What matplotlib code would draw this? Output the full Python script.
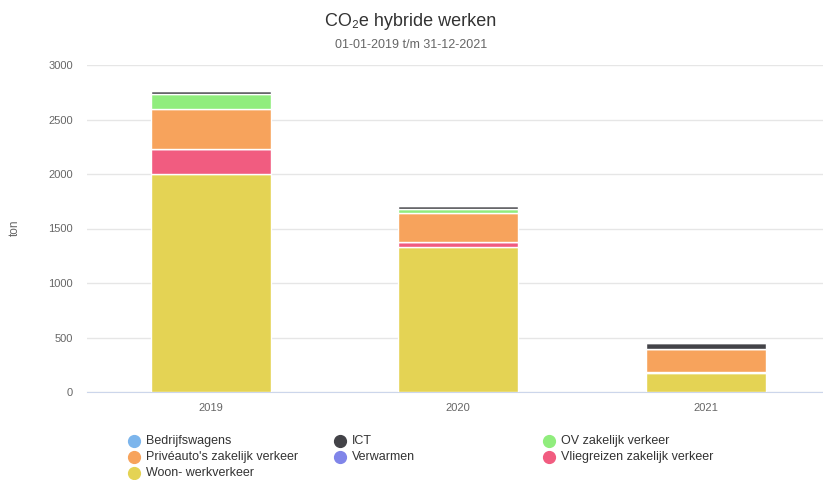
import matplotlib
matplotlib.use('Agg')
import matplotlib.pyplot as plt
from matplotlib.lines import Line2D
import numpy as np

plt.rcParams['font.family'] = ['Liberation Sans', 'DejaVu Sans']

years = ['2019', '2020', '2021']
series_names = ['Bedrijfswagens', 'ICT', 'OV zakelijk verkeer', "Privéauto's zakelijk verkeer",
                'Verwarmen', 'Vliegreizen zakelijk verkeer', 'Woon- werkverkeer']
colors = ['#7cb5ec', '#434348', '#90ed7d', '#f7a35c', '#8085e9', '#f15c80', '#e4d354']

bedrijfswagens = [0, 0, 0]
ict = [25, 30, 55]
ov = [135, 35, 0]
priveauto = [370, 265, 210]
verwarmen = [0, 0, 0]
vliegreizen = [230, 45, 5]
woonwerk = [2000, 1330, 175]

values = [bedrijfswagens, ict, ov, priveauto, verwarmen, vliegreizen, woonwerk]

W, H = 823, 480
fig = plt.figure(figsize=(W / 100, H / 100), dpi=100)
ax = fig.add_axes([87 / W, (H - 392) / H, (W - 87) / W, (392 - 65) / H])

x = np.arange(len(years))
bottom = np.zeros(len(years))
# stack from the last series upward, like highcharts does
for name, vals, col in reversed(list(zip(series_names, values, colors))):
    vals = np.array(vals, dtype=float)
    ax.bar(x, vals, 0.485, bottom=bottom, color=col, edgecolor='white', linewidth=1, zorder=3)
    bottom += vals

ax.set_xlim(-0.5, (W - 87) / 247.5 - 0.5)
ax.set_ylim(0, 3000)
ax.set_yticks([0, 500, 1000, 1500, 2000, 2500, 3000])
ax.set_xticks(x)
ax.set_xticklabels(years)
ax.yaxis.grid(True, color='#e6e6e6', linewidth=1, zorder=0)
for s in ['top', 'right', 'left']:
    ax.spines[s].set_visible(False)
ax.spines['bottom'].set_color('#ccd6eb')
ax.tick_params(axis='y', length=0, pad=10, labelsize=8, labelcolor='#666666')
ax.tick_params(axis='x', length=0, pad=8, labelsize=8, labelcolor='#666666')

fig.text(15 / W, 1 - 228 / H, 'ton', rotation=90, ha='center', va='center',
         fontsize=8.5, color='#666666')
fig.text(411 / W, 1 - 22 / H, 'CO₂e hybride werken', ha='center', va='center',
         fontsize=13, color='#333333')
fig.text(411 / W, 1 - 45 / H, '01-01-2019 t/m 31-12-2021', ha='center', va='center',
         fontsize=9, color='#666666')

# legend, row-major in three columns
col_x = [134, 340, 549]
row_y = [441, 457, 473]
for i, (name, col) in enumerate(zip(series_names, colors)):
    cx = col_x[i % 3]
    cy = row_y[i // 3]
    fig.add_artist(Line2D([cx / W], [1 - cy / H], marker='o', markersize=8.5,
                          color=col, linestyle='none'))
    fig.text((cx + 12) / W, 1 - cy / H, name, ha='left', va='center',
             fontsize=9, color='#333333')

fig.savefig('out.png', dpi=100)
